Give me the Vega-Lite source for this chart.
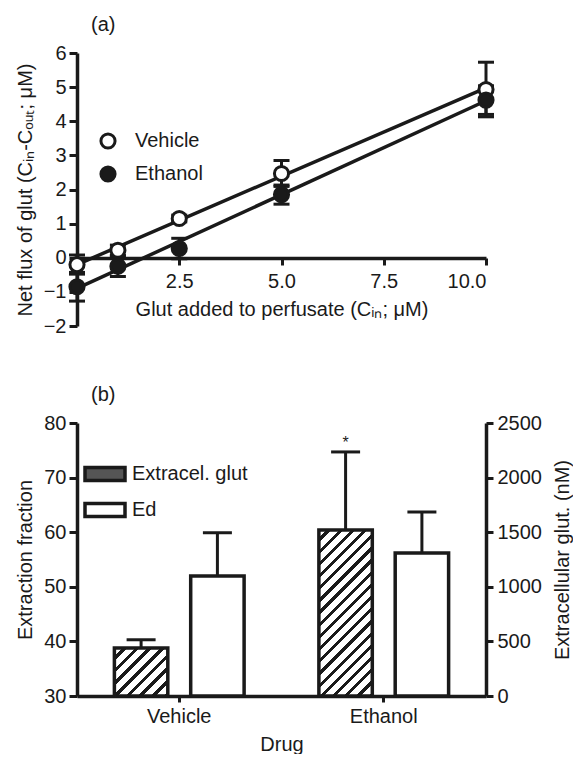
{
  "$schema": "https://vega.github.io/schema/vega-lite/v6.json",
  "background": "white",
  "padding": {"left": 15, "top": 15, "right": 0, "bottom": 0},
  "bounds": "flush",
  "spacing": 97,
  "resolve": {"scale": {"fill": "independent"}, "legend": {"fill": "independent"}},
  "datasets": {
    "points": [
      {"series": "Vehicle", "cin": 0, "flux": -0.2, "lo": -0.48, "hi": 0.08},
      {"series": "Vehicle", "cin": 1, "flux": 0.22, "lo": 0.07, "hi": 0.37},
      {"series": "Vehicle", "cin": 2.5, "flux": 1.15, "lo": 1.05, "hi": 1.25},
      {"series": "Vehicle", "cin": 5, "flux": 2.47, "lo": 2.09, "hi": 2.85},
      {"series": "Vehicle", "cin": 10, "flux": 4.93, "lo": 4.13, "hi": 5.73},
      {"series": "Ethanol", "cin": 0, "flux": -0.85, "lo": -1.27, "hi": -0.43},
      {"series": "Ethanol", "cin": 1, "flux": -0.25, "lo": -0.55, "hi": 0.05},
      {"series": "Ethanol", "cin": 2.5, "flux": 0.27, "lo": -0.03, "hi": 0.57},
      {"series": "Ethanol", "cin": 5, "flux": 1.85, "lo": 1.57, "hi": 2.13},
      {"series": "Ethanol", "cin": 10, "flux": 4.62, "lo": 4.2, "hi": 5.04}
    ],
    "fits": [
      {"series": "Vehicle", "cin": 0, "flux": -0.2},
      {"series": "Vehicle", "cin": 10, "flux": 4.98},
      {"series": "Ethanol", "cin": 0, "flux": -0.9},
      {"series": "Ethanol", "cin": 10, "flux": 4.6}
    ],
    "bars": [
      {"drug": "Vehicle", "measure": "Extracel. glut", "value": 440, "hi": 515, "note": ""},
      {"drug": "Vehicle", "measure": "Ed", "value": 52.0, "hi": 59.9, "note": ""},
      {"drug": "Ethanol", "measure": "Extracel. glut", "value": 1520, "hi": 2235, "note": "*"},
      {"drug": "Ethanol", "measure": "Ed", "value": 56.2, "hi": 63.7, "note": ""}
    ]
  },
  "vconcat": [
    {
      "width": 409,
      "height": 273,
      "title": {"text": "(a)", "anchor": "start", "frame": "group", "dx": 14, "offset": 8},
      "encoding": {
        "x": {
          "field": "cin", "type": "quantitative",
          "scale": {"domain": [0, 10], "nice": false, "zero": false},
          "axis": {"values": [2.5, 5, 7.5, 10], "format": ".1f", "offset": -68, "title": "Glut added to perfusate (Cᵢₙ; μM)", "tickSize": 7, "labelPadding": 6, "titlePadding": 8}
        }
      },
      "layer": [
        {
          "data": {"name": "fits"},
          "mark": {"type": "line", "color": "#1a1a1a", "strokeWidth": 3.5},
          "encoding": {
            "y": {"field": "flux", "type": "quantitative", "scale": {"domain": [-2, 6], "nice": false}, "title": "Net flux of glut (Cᵢₙ-Cₒᵤₜ; μM)",
              "axis": {"values": [-2, -1, 0, 1, 2, 3, 4, 5, 6], "labelOverlap": false, "tickSize": 8, "labelPadding": 3, "titlePadding": 8}},
            "detail": {"field": "series"}
          }
        },
        {
          "data": {"name": "points"},
          "mark": {"type": "rule", "color": "#1a1a1a", "strokeWidth": 3},
          "encoding": {
            "y": {"field": "lo", "type": "quantitative", "title": "Net flux of glut (Cᵢₙ-Cₒᵤₜ; μM)",
              "axis": {"values": [-2, -1, 0, 1, 2, 3, 4, 5, 6], "labelOverlap": false, "tickSize": 8, "labelPadding": 3, "titlePadding": 8}},
            "y2": {"field": "hi"}
          }
        },
        {
          "data": {"name": "points"},
          "mark": {"type": "tick", "orient": "horizontal", "color": "#1a1a1a", "size": 16, "thickness": 3, "opacity": 1},
          "encoding": {"y": {"field": "lo", "type": "quantitative", "title": "Net flux of glut (Cᵢₙ-Cₒᵤₜ; μM)",
            "axis": {"values": [-2, -1, 0, 1, 2, 3, 4, 5, 6], "labelOverlap": false, "tickSize": 8, "labelPadding": 3, "titlePadding": 8}}}
        },
        {
          "data": {"name": "points"},
          "mark": {"type": "tick", "orient": "horizontal", "color": "#1a1a1a", "size": 16, "thickness": 3, "opacity": 1},
          "encoding": {"y": {"field": "hi", "type": "quantitative", "title": "Net flux of glut (Cᵢₙ-Cₒᵤₜ; μM)",
            "axis": {"values": [-2, -1, 0, 1, 2, 3, 4, 5, 6], "labelOverlap": false, "tickSize": 8, "labelPadding": 3, "titlePadding": 8}}}
        },
        {
          "data": {"name": "points"},
          "mark": {"type": "point", "shape": "circle", "filled": true, "size": 200, "stroke": "#1a1a1a", "strokeWidth": 3, "opacity": 1},
          "encoding": {
            "y": {"field": "flux", "type": "quantitative", "title": "Net flux of glut (Cᵢₙ-Cₒᵤₜ; μM)",
              "axis": {"values": [-2, -1, 0, 1, 2, 3, 4, 5, 6], "labelOverlap": false, "tickSize": 8, "labelPadding": 3, "titlePadding": 8}},
            "fill": {
              "field": "series", "type": "nominal",
              "scale": {"domain": ["Vehicle", "Ethanol"], "range": ["white", "#1a1a1a"]},
              "legend": {"orient": "none", "legendX": 21, "legendY": 78, "title": null, "symbolType": "circle", "symbolSize": 200, "symbolStrokeColor": "#1a1a1a", "symbolStrokeWidth": 3, "labelOffset": 17, "rowPadding": 5, "padding": 0}
            }
          }
        }
      ]
    },
    {
      "width": 409,
      "height": 273,
      "title": {"text": "(b)", "anchor": "start", "frame": "group", "dx": 14, "offset": 8},
      "data": {"name": "bars"},
      "encoding": {
        "x": {
          "field": "drug", "type": "nominal", "sort": ["Vehicle", "Ethanol"],
          "scale": {"paddingInner": 0, "paddingOuter": 0},
          "axis": {"title": "Drug", "labelAngle": 0, "tickSize": 6, "labelPadding": 4, "titlePadding": 8}
        },
        "xOffset": {
          "field": "measure", "type": "nominal",
          "scale": {"domain": ["Extracel. glut", "Ed"], "paddingInner": 0.3, "paddingOuter": 0.49}
        }
      },
      "layer": [
        {
          "transform": [{"filter": "datum.measure === 'Ed'"}],
          "encoding": {
            "y": {"field": "value", "type": "quantitative", "scale": {"domain": [30, 80], "nice": false, "zero": false}, "title": "Extraction fraction",
              "axis": {"values": [30, 40, 50, 60, 70, 80], "labelOverlap": false, "tickSize": 8, "labelPadding": 3, "titlePadding": 8}}
          },
          "layer": [
            {
              "mark": {"type": "bar", "stroke": "#1a1a1a", "strokeWidth": 3.5},
              "encoding": {
                "y2": {"datum": 30},
                "fill": {
                  "field": "measure", "type": "nominal",
                  "scale": {"domain": ["Extracel. glut", "Ed"], "range": ["#555555", "white"]}
                }
              }
            },
            {
              "mark": {"type": "rule", "color": "#1a1a1a", "strokeWidth": 3},
              "encoding": {"y2": {"field": "hi"}}
            },
            {
              "mark": {"type": "tick", "orient": "horizontal", "color": "#1a1a1a", "size": 29, "thickness": 3, "opacity": 1},
              "encoding": {"y": {"field": "hi", "type": "quantitative", "title": "Extraction fraction"}}
            }
          ]
        },
        {
          "transform": [{"filter": "datum.measure === 'Extracel. glut'"}],
          "encoding": {
            "y": {"field": "value", "type": "quantitative", "scale": {"domain": [0, 2500], "nice": false}, "title": "Extracellular glut. (nM)",
              "axis": {"orient": "right", "values": [0, 500, 1000, 1500, 2000, 2500], "format": "d", "labelOverlap": false, "tickSize": 7, "labelPadding": 4, "titlePadding": 11, "titleAngle": -90, "titleBaseline": "top"}}
          },
          "layer": [
            {
              "mark": {"type": "bar", "stroke": "#1a1a1a", "strokeWidth": 3.5},
              "encoding": {
                "fill": {
                  "field": "measure", "type": "nominal",
                  "legend": {
                    "orient": "none", "legendX": 6, "legendY": 29, "title": null,
                    "symbolType": "M-1,-0.33H1V0.33H-1Z", "symbolSize": 1600,
                    "symbolStrokeColor": "#1a1a1a", "symbolStrokeWidth": 3.5,
                    "labelOffset": 5, "rowPadding": -12, "padding": 0,
                    "encoding": {
                      "symbols": {
                        "stroke": {"value": "#1a1a1a"},
                        "strokeWidth": {"value": 3.5}
                      }
                    }
                  },
                  "condition": [
                    {"test": "datum.drug === 'Vehicle'", "value": {"gradient": "linear", "x1": 0, "y1": 0, "x2": 1.0503, "y2": 0.9441, "stops": [
                      {"offset": 0, "color": "white"}, {"offset": 0.081, "color": "white"}, {"offset": 0.081, "color": "#1a1a1a"}, {"offset": 0.125, "color": "#1a1a1a"},
                      {"offset": 0.125, "color": "white"}, {"offset": 0.206, "color": "white"}, {"offset": 0.206, "color": "#1a1a1a"}, {"offset": 0.25, "color": "#1a1a1a"},
                      {"offset": 0.25, "color": "white"}, {"offset": 0.331, "color": "white"}, {"offset": 0.331, "color": "#1a1a1a"}, {"offset": 0.375, "color": "#1a1a1a"},
                      {"offset": 0.375, "color": "white"}, {"offset": 0.456, "color": "white"}, {"offset": 0.456, "color": "#1a1a1a"}, {"offset": 0.5, "color": "#1a1a1a"},
                      {"offset": 0.5, "color": "white"}, {"offset": 0.581, "color": "white"}, {"offset": 0.581, "color": "#1a1a1a"}, {"offset": 0.625, "color": "#1a1a1a"},
                      {"offset": 0.625, "color": "white"}, {"offset": 0.706, "color": "white"}, {"offset": 0.706, "color": "#1a1a1a"}, {"offset": 0.75, "color": "#1a1a1a"},
                      {"offset": 0.75, "color": "white"}, {"offset": 0.831, "color": "white"}, {"offset": 0.831, "color": "#1a1a1a"}, {"offset": 0.875, "color": "#1a1a1a"},
                      {"offset": 0.875, "color": "white"}, {"offset": 0.956, "color": "white"}, {"offset": 0.956, "color": "#1a1a1a"}, {"offset": 1, "color": "#1a1a1a"}
                    ]}},
                    {"test": "datum.drug === 'Ethanol'", "value": {"gradient": "linear", "x1": 0, "y1": 0, "x2": 0.3853, "y2": 1.1977, "stops": [
                      {"offset": 0, "color": "white"}, {"offset": 0.0361, "color": "white"}, {"offset": 0.0361, "color": "#1a1a1a"}, {"offset": 0.0556, "color": "#1a1a1a"},
                      {"offset": 0.0556, "color": "white"}, {"offset": 0.0917, "color": "white"}, {"offset": 0.0917, "color": "#1a1a1a"}, {"offset": 0.1111, "color": "#1a1a1a"},
                      {"offset": 0.1111, "color": "white"}, {"offset": 0.1472, "color": "white"}, {"offset": 0.1472, "color": "#1a1a1a"}, {"offset": 0.1667, "color": "#1a1a1a"},
                      {"offset": 0.1667, "color": "white"}, {"offset": 0.2028, "color": "white"}, {"offset": 0.2028, "color": "#1a1a1a"}, {"offset": 0.2222, "color": "#1a1a1a"},
                      {"offset": 0.2222, "color": "white"}, {"offset": 0.2583, "color": "white"}, {"offset": 0.2583, "color": "#1a1a1a"}, {"offset": 0.2778, "color": "#1a1a1a"},
                      {"offset": 0.2778, "color": "white"}, {"offset": 0.3139, "color": "white"}, {"offset": 0.3139, "color": "#1a1a1a"}, {"offset": 0.3333, "color": "#1a1a1a"},
                      {"offset": 0.3333, "color": "white"}, {"offset": 0.3694, "color": "white"}, {"offset": 0.3694, "color": "#1a1a1a"}, {"offset": 0.3889, "color": "#1a1a1a"},
                      {"offset": 0.3889, "color": "white"}, {"offset": 0.425, "color": "white"}, {"offset": 0.425, "color": "#1a1a1a"}, {"offset": 0.4444, "color": "#1a1a1a"},
                      {"offset": 0.4444, "color": "white"}, {"offset": 0.4806, "color": "white"}, {"offset": 0.4806, "color": "#1a1a1a"}, {"offset": 0.5, "color": "#1a1a1a"},
                      {"offset": 0.5, "color": "white"}, {"offset": 0.5361, "color": "white"}, {"offset": 0.5361, "color": "#1a1a1a"}, {"offset": 0.5556, "color": "#1a1a1a"},
                      {"offset": 0.5556, "color": "white"}, {"offset": 0.5917, "color": "white"}, {"offset": 0.5917, "color": "#1a1a1a"}, {"offset": 0.6111, "color": "#1a1a1a"},
                      {"offset": 0.6111, "color": "white"}, {"offset": 0.6472, "color": "white"}, {"offset": 0.6472, "color": "#1a1a1a"}, {"offset": 0.6667, "color": "#1a1a1a"},
                      {"offset": 0.6667, "color": "white"}, {"offset": 0.7028, "color": "white"}, {"offset": 0.7028, "color": "#1a1a1a"}, {"offset": 0.7222, "color": "#1a1a1a"},
                      {"offset": 0.7222, "color": "white"}, {"offset": 0.7583, "color": "white"}, {"offset": 0.7583, "color": "#1a1a1a"}, {"offset": 0.7778, "color": "#1a1a1a"},
                      {"offset": 0.7778, "color": "white"}, {"offset": 0.8139, "color": "white"}, {"offset": 0.8139, "color": "#1a1a1a"}, {"offset": 0.8333, "color": "#1a1a1a"},
                      {"offset": 0.8333, "color": "white"}, {"offset": 0.8694, "color": "white"}, {"offset": 0.8694, "color": "#1a1a1a"}, {"offset": 0.8889, "color": "#1a1a1a"},
                      {"offset": 0.8889, "color": "white"}, {"offset": 0.925, "color": "white"}, {"offset": 0.925, "color": "#1a1a1a"}, {"offset": 0.9444, "color": "#1a1a1a"},
                      {"offset": 0.9444, "color": "white"}, {"offset": 0.9806, "color": "white"}, {"offset": 0.9806, "color": "#1a1a1a"}, {"offset": 1, "color": "#1a1a1a"}
                    ]}}
                  ]
                }
              }
            },
            {
              "mark": {"type": "rule", "color": "#1a1a1a", "strokeWidth": 3},
              "encoding": {"y2": {"field": "hi"}}
            },
            {
              "mark": {"type": "tick", "orient": "horizontal", "color": "#1a1a1a", "size": 29, "thickness": 3, "opacity": 1},
              "encoding": {"y": {"field": "hi", "type": "quantitative", "title": "Extracellular glut. (nM)"}}
            },
            {
              "mark": {"type": "text", "fontSize": 16, "baseline": "alphabetic", "dy": -4, "color": "#1a1a1a"},
              "encoding": {"y": {"field": "hi", "type": "quantitative", "title": "Extracellular glut. (nM)"}, "text": {"field": "note"}}
            }
          ]
        }
      ],
      "resolve": {"scale": {"y": "independent"}}
    }
  ],
  "config": {
    "font": "Liberation Sans",
    "view": {"stroke": null},
    "axis": {
      "grid": false,
      "domainColor": "#1a1a1a", "domainWidth": 3.5,
      "tickColor": "#1a1a1a", "tickWidth": 3,
      "labelFontSize": 20, "labelColor": "#1a1a1a", "labelFont": "Liberation Sans",
      "titleFontSize": 20, "titleFontWeight": "normal", "titleColor": "#1a1a1a", "titleFont": "Liberation Sans"
    },
    "legend": {"labelFontSize": 20, "labelColor": "#1a1a1a", "labelFont": "Liberation Sans"},
    "title": {"fontSize": 20, "fontWeight": "normal", "color": "#1a1a1a", "font": "Liberation Sans"}
  }
}
